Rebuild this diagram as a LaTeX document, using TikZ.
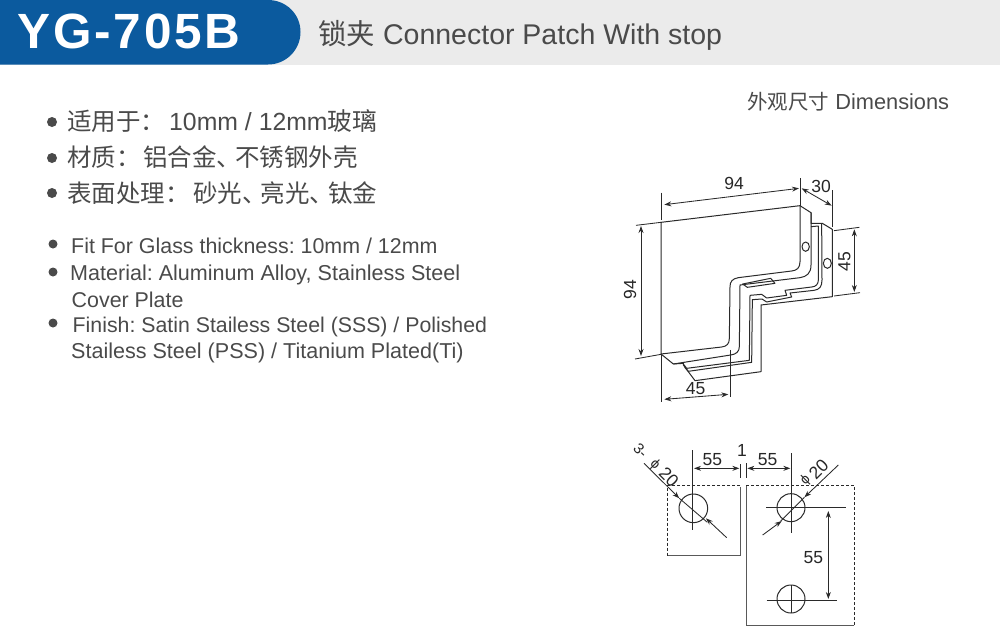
\documentclass[tikz,border=0pt]{standalone}
\usepackage{fontspec}
\setmainfont{Liberation Sans}
\newfontfamily\cjk{Noto Sans CJK SC}
\newfontfamily\titlefont[LetterSpace=5.5]{Liberation Sans Bold}
\usetikzlibrary{arrows.meta}
\frenchspacing
\definecolor{hdrgray}{HTML}{EBEBEB}
\definecolor{hdrblue}{HTML}{0B5A9E}
\definecolor{txtgray}{HTML}{4A4A4A}
\definecolor{linegray}{HTML}{2A2A2A}
\newcommand{\ckpunct}{、\hspace{-6pt}}
\tikzset{
  lbl/.style={text=txtgray,inner sep=0pt,anchor=base west},
  dimlbl/.style={text=black!85,inner sep=0pt,font=\fontsize{17.5}{17.5}\selectfont},
  part/.style={draw=linegray,line width=1pt,line join=round},
  thin line/.style={draw=linegray,line width=0.85pt},
  dimarrow/.style={draw=linegray,line width=0.85pt,{Stealth[length=7pt,width=5pt]}-{Stealth[length=7pt,width=5pt]}},
  onearrow/.style={draw=linegray,line width=0.85pt,-{Stealth[length=7pt,width=5pt]}},
  bul/.style={circle,fill=txtgray,inner sep=0pt,minimum size=10pt},
  bulsm/.style={circle,fill=txtgray,inner sep=0pt,minimum size=9pt},
  dash part/.style={draw=linegray,line width=0.85pt,dash pattern=on 3pt off 2pt},
  solid part/.style={draw=black!65,line width=1pt}
}
\begin{document}
\begin{tikzpicture}[x=1pt,y=-1pt]
\useasboundingbox (0,0) rectangle (1000,626);
% header
\fill[hdrgray] (0,0) rectangle (1000,65);
\fill[hdrblue] (0,0) -- (268,0) .. controls (286,0) and (300.5,14) .. (300.5,32) .. controls (300.5,50) and (286,64.5) .. (268,64.5) -- (0,64.5) -- cycle;
\node[inner sep=0pt,anchor=base west,text=white] (title) at (17.5,48.5) {\titlefont\fontsize{49.5}{49.5}\selectfont YG-705B};
\node[lbl] (sub) at (318,45) {\fontsize{28.5}{28.5}\selectfont{\cjk 锁夹} Connector Patch With stop};
\node[lbl] (dims) at (747,109) {\fontsize{21.8}{21.8}\selectfont{\fontsize{20.5}{20.5}\selectfont\cjk 外观尺寸} Dimensions};
% Chinese list
\node[bul] (b1) at (52,122) {};
\node[bul] (b2) at (52,158) {};
\node[bul] (b3) at (52,193) {};
\node[lbl] (c1) at (67,130) {\fontsize{24.8}{24.8}\selectfont{\fontsize{24.5}{24.5}\selectfont\cjk 适用于：}\hspace{4pt}10mm / 12mm{\cjk 玻璃}};
\node[lbl] (c2) at (67,166) {\fontsize{24.5}{24.5}\selectfont\cjk 材质：\hspace{2.5pt}铝合金\ckpunct 不锈钢外壳};
\node[lbl] (c3) at (67,202) {\fontsize{24.5}{24.5}\selectfont\cjk 表面处理：\hspace{3.5pt}砂光\ckpunct 亮光\ckpunct 钛金};
% English list
\node[bulsm] (e1) at (53,244) {};
\node[bulsm] (e2) at (53,272) {};
\node[bulsm] (e3) at (53,323) {};
\node[lbl] (t1) at (71,253) {\fontsize{21.4}{21.4}\selectfont Fit For Glass thickness: 10mm / 12mm};
\node[lbl] (t2) at (70,280.5) {\fontsize{21.55}{21.55}\selectfont Material: Aluminum Alloy, Stainless Steel};
\node[lbl] (t3) at (71.5,307) {\fontsize{21.4}{21.4}\selectfont Cover Plate};
\node[lbl] (t4) at (72.5,332) {\fontsize{21.3}{21.3}\selectfont Finish: Satin Stailess Steel (SSS) / Polished};
\node[lbl] (t5) at (71,358) {\fontsize{21.55}{21.55}\selectfont Stailess Steel (PSS) / Titanium Plated(Ti)};
% isometric drawing
\begin{scope}[shift={(610,170)},scale=0.33333]
\draw[fill=white,part] (153,157) -- (570,107) -- (603,128) -- (603,160) -- (637,160) -- (667,178) -- (667,380) -- (453,405) -- (453,605) -- (255,632) -- (220,585) -- (220,580) -- (190,582) -- (153,552) -- cycle;
\draw[part] (570,107) -- (570,275) .. controls (570,295) and (560,301) .. (545,303) -- (385,323) .. controls (367,326) and (360,335) .. (360,350) -- (358,505) .. controls (358,522) and (350,529) .. (335,531) -- (153,552);
\draw[part] (603,128) -- (603,285) .. controls (603,310) and (590,320) .. (570,323) -- (390,345) -- (388,530) .. controls (388,545) and (378,553) .. (362,555) -- (190,582);
\draw[part] (603,170) -- (625,168) -- (625,330) .. controls (625,342) and (618,350) .. (605,351) -- (525,361) -- (530,376) -- (470,384) -- (455,373) -- (420,376) -- (418,571) -- (230,595) -- (220,582);
\draw[part] (635,160) -- (636,330) .. controls (636,350) and (628,359) .. (612,361) -- (540,369) -- (545,381) -- (470,396) -- (456,387) -- (427,389) -- (425,577) -- (235,604) -- (224,592);
\draw[part] (398,342) -- (482,325) -- (495,340) -- (412,352) -- cycle;
\draw[part] (587,230) ellipse[x radius=11,y radius=14];
\draw[part] (652,280) ellipse[x radius=12,y radius=15];
% extension lines
\coordinate (a1) at (155,68); \coordinate (a2) at (155,150);
\coordinate (a3) at (570,25); \coordinate (a4) at (570,107);
\coordinate (a5) at (668,60); \coordinate (a6) at (668,172);
\coordinate (a7) at (672,182); \coordinate (a8) at (748,172);
\coordinate (a9) at (672,378); \coordinate (a10) at (750,368);
\coordinate (a11) at (78,166); \coordinate (a12) at (153,157);
\coordinate (a13) at (75,567); \coordinate (a14) at (153,553);
\coordinate (a15) at (153,555); \coordinate (a16) at (153,697);
\coordinate (a17) at (360,540); \coordinate (a18) at (360,680);
\foreach \p/\q in {a1/a2,a3/a4,a5/a6,a7/a8,a9/a10,a11/a12,a13/a14,a15/a16,a17/a18}
  \draw[thin line] (\p) -- (\q);
% dimensions
\coordinate (d1) at (163,104); \coordinate (d2) at (567,55);
\coordinate (d3) at (575,55); \coordinate (d4) at (665,107);
\coordinate (d5) at (733,178); \coordinate (d6) at (733,366);
\coordinate (d7) at (93,168); \coordinate (d8) at (93,558);
\coordinate (d9) at (163,688); \coordinate (d10) at (355,673);
\foreach \p/\q in {d1/d2,d3/d4,d5/d6,d7/d8,d9/d10}
  \draw[dimarrow] (\p) -- (\q);
\node[dimlbl] (l94a) at (372,39) {94};
\node[dimlbl] (l30) at (633,48) {30};
\node[dimlbl,rotate=90] (l45a) at (703,275) {45};
\node[dimlbl,rotate=90] (l94b) at (60,358) {94};
\node[dimlbl] (l45b) at (257,657) {45};
\end{scope}
% hole drawing
\begin{scope}[shift={(620,435)},scale=0.33333]
\draw[dash part] (360,150) -- (143,150) -- (143,362);
\draw[solid part] (143,362) -- (360,362) -- (360,155);
\draw[dash part] (378,152) -- (703,152) -- (703,570);
\draw[solid part] (703,570) -- (378,570) -- (378,152);
\draw[part] (220,220) circle[radius=43];
\draw[part] (513,218) circle[radius=42];
\draw[part] (513,492) circle[radius=42];
\coordinate (h1) at (218,45); \coordinate (h2) at (218,285);
\coordinate (h3) at (513,55); \coordinate (h4) at (513,295);
\coordinate (h5) at (513,450); \coordinate (h6) at (513,535);
\coordinate (h7) at (438,217); \coordinate (h8) at (677,217);
\coordinate (h9) at (440,497); \coordinate (h10) at (650,497);
\coordinate (h11) at (360,88); \coordinate (h12) at (360,130);
\coordinate (h13) at (378,85); \coordinate (h14) at (378,130);
\coordinate (h15) at (178,190); \coordinate (h16) at (262,262);
\coordinate (h17) at (553,187); \coordinate (h18) at (482,258);
\foreach \p/\q in {h1/h2,h3/h4,h5/h6,h7/h8,h9/h10,h11/h12,h13/h14,h15/h16,h17/h18}
  \draw[thin line] (\p) -- (\q);
\coordinate (k1) at (222,100); \coordinate (k2) at (358,100);
\coordinate (k3) at (382,100); \coordinate (k4) at (511,100);
\coordinate (k5) at (625,228); \coordinate (k6) at (625,492);
\foreach \p/\q in {k1/k2,k3/k4,k5/k6}
  \draw[dimarrow] (\p) -- (\q);
\coordinate (m1) at (72,85); \coordinate (m2) at (320,308);
\coordinate (m3) at (258,250); \coordinate (m4) at (655,90);
\coordinate (m5) at (428,300); \coordinate (m6) at (485,258);
\draw[onearrow] (m1) -- (h15);
\draw[onearrow] (m2) -- (m3);
\draw[onearrow] (m4) -- (h17);
\draw[onearrow] (m5) -- (m6);
\node[dimlbl] (n55a) at (277,74) {55};
\node[dimlbl] (n55b) at (443,74) {55};
\node[dimlbl] (n1) at (366,47) {1};
\node[dimlbl] (n55c) at (580,368) {55};
\node[dimlbl,rotate=-45,font=\fontsize{15}{15}\selectfont] (n3) at (62,47) {3-};
\node[dimlbl,rotate=-45,font=\fontsize{14}{14}\selectfont] (nphi) at (105,88) {ϕ};
\node[dimlbl,rotate=-45] (n20) at (147,127) {20};
\node[dimlbl,rotate=45,font=\fontsize{14}{14}\selectfont] (nphib) at (557,136) {ϕ};
\node[dimlbl,rotate=45] (n20b) at (596,103) {20};
\end{scope}
\end{tikzpicture}
\end{document}
